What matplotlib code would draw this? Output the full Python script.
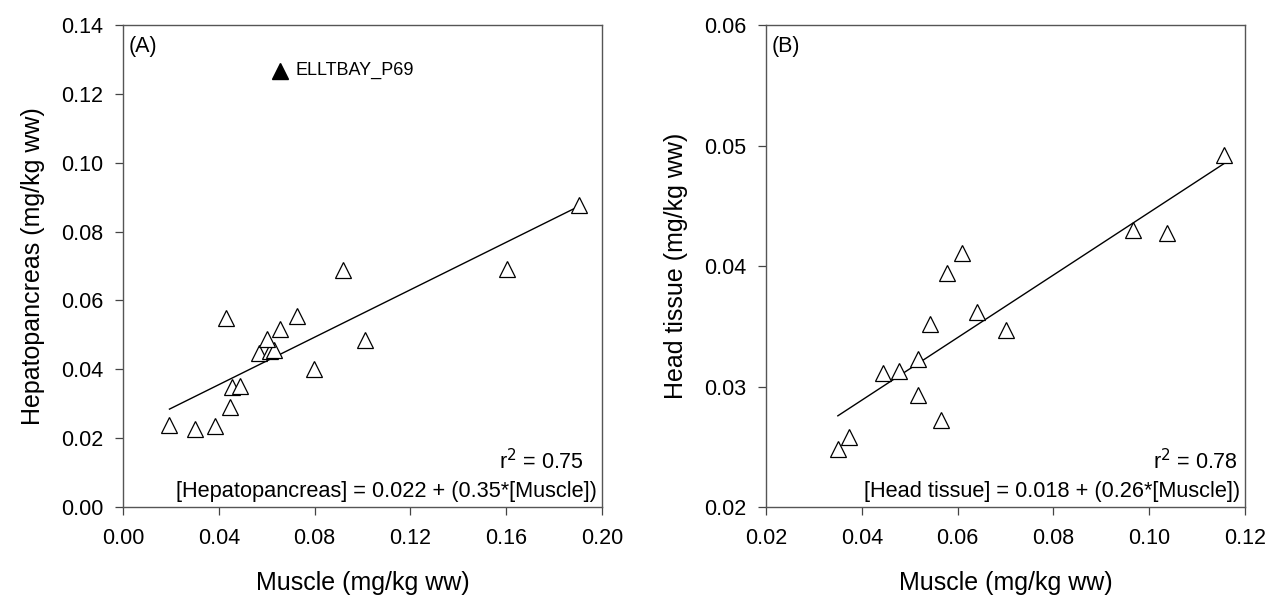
import matplotlib
matplotlib.use("Agg")
import matplotlib.pyplot as plt
import numpy as np

plt.rcParams['font.family'] = ['Liberation Sans', 'DejaVu Sans']

# Panel A: muscle vs hepatopancreas
muscle_a = [0.0194, 0.0299, 0.0385, 0.0445, 0.0455, 0.0490, 0.0432, 0.0566, 0.0615,
            0.0632, 0.0601, 0.0657, 0.0725, 0.0796, 0.0919, 0.1603, 0.1009, 0.1903]
hepato = [0.0239, 0.0226, 0.0236, 0.0291, 0.0349, 0.0352, 0.0549, 0.0446, 0.0452,
          0.0456, 0.0488, 0.0517, 0.0556, 0.0401, 0.0689, 0.0692, 0.0486, 0.0876]
outlier_x = 0.0657
outlier_y = 0.1267
outlier_name = "ELLTBAY_P69"
r2_a = "0.75"
eq_a = "[Hepatopancreas] = 0.022 + (0.35*[Muscle])"

# Panel B: muscle vs head tissue
muscle_b = [0.0609, 0.0578, 0.0641, 0.0702, 0.0543, 0.0517, 0.0444, 0.0477,
            0.0517, 0.0565, 0.0374, 0.0350, 0.1157, 0.0967, 0.1037]
head = [0.0411, 0.0394, 0.0362, 0.0347, 0.0352, 0.0323, 0.0311, 0.0313,
        0.0293, 0.0272, 0.0258, 0.0248, 0.0492, 0.0430, 0.0427]
r2_b = "0.78"
eq_b = "[Head tissue] = 0.018 + (0.26*[Muscle])"


def panel(ax, x, y, tag, r2, eq, r2_gap, xlim, ylim, xticks, yticks, ylabel):
    x = np.array(x)
    y = np.array(y)
    ax.plot(x, y, linestyle='none', marker='^', markersize=11,
            markerfacecolor='white', markeredgecolor='black', markeredgewidth=0.9, zorder=3)
    slope, icpt = np.polyfit(x, y, 1)
    xs = np.array([x.min(), x.max()])
    ax.plot(xs, icpt + slope * xs, color='black', lw=1.0, zorder=2)

    ax.set_xlim(*xlim)
    ax.set_ylim(*ylim)
    ax.set_xticks(xticks)
    ax.set_yticks(yticks)
    ax.set_xticklabels([f"{v:.2f}" for v in xticks])
    ax.set_yticklabels([f"{v:.2f}" for v in yticks])
    ax.tick_params(direction='out', length=6, width=0.9, labelsize=15.5, color='#444444')
    ax.tick_params(axis='x', pad=9)
    ax.tick_params(axis='y', pad=8)
    for s in ax.spines.values():
        s.set_color('#555555')
        s.set_linewidth(1.0)
    ax.set_xlabel("Muscle (mg/kg ww)", fontsize=18, labelpad=16)
    ax.set_ylabel(ylabel, fontsize=18, labelpad=12)

    ax.annotate(tag, (0, 1), xycoords='axes fraction', xytext=(4, -8),
                textcoords='offset points', ha='left', va='top', fontsize=15.5)
    ax.annotate("r$^2$ = " + r2, (1, 0), xycoords='axes fraction', xytext=(-r2_gap, 33),
                textcoords='offset points', ha='right', va='center', fontsize=15.5)
    ax.annotate(eq, (1, 0), xycoords='axes fraction', xytext=(-3.5, 11),
                textcoords='offset points', ha='right', va='center', fontsize=15.7)


fig = plt.figure(figsize=(12.72, 6.0), dpi=100)
ax_a = fig.add_axes([0.0967, 0.155, 0.3766, 0.8033])
ax_b = fig.add_axes([0.6022, 0.155, 0.3766, 0.8033])

panel(ax_a, muscle_a, hepato, "(A)", r2_a, eq_a, 13, (0, 0.20), (0, 0.14),
      np.arange(0, 0.201, 0.04), np.arange(0, 0.141, 0.02),
      "Hepatopancreas (mg/kg ww)")
ax_a.plot([outlier_x], [outlier_y], linestyle='none', marker='^', markersize=11,
          color='black', zorder=3)
ax_a.annotate(outlier_name, (outlier_x, outlier_y), xytext=(11, 0), textcoords='offset points',
              ha='left', va='center', fontsize=13)

panel(ax_b, muscle_b, head, "(B)", r2_b, eq_b, 5, (0.02, 0.12), (0.02, 0.06),
      np.arange(0.02, 0.121, 0.02), np.arange(0.02, 0.061, 0.01),
      "Head tissue (mg/kg ww)")

fig.savefig("out.png", dpi=100)
